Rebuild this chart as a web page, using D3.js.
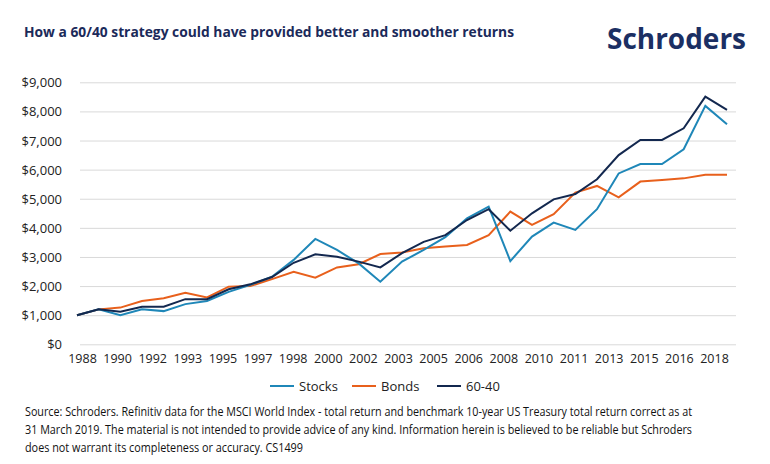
<!DOCTYPE html>
<html>
<head>
<meta charset="utf-8">
<script src="https://cdn.jsdelivr.net/npm/d3@7"></script>
<style>
  html, body { margin: 0; padding: 0; background: #fff; }
  svg { display: block; }
  text { font-family: "Open Sans", "Noto Sans", sans-serif; }
</style>
</head>
<body>
<svg id="chart" width="770" height="464"></svg>
<script>
const years = [1988,1989,1990,1991,1992,1993,1994,1995,1996,1997,1998,1999,2000,2001,2002,2003,2004,2005,2006,2007,2008,2009,2010,2011,2012,2013,2014,2015,2016,2017,2018];
const stocks = [1000,1200,1000,1200,1140,1380,1490,1800,2040,2320,2900,3620,3240,2780,2150,2840,3240,3680,4330,4730,2860,3700,4180,3930,4640,5870,6190,6190,6700,8190,7560];
const bonds  = [1000,1200,1260,1490,1580,1770,1610,1980,2000,2240,2490,2290,2640,2750,3100,3150,3300,3360,3410,3750,4560,4100,4470,5210,5440,5050,5590,5640,5700,5820,5820];
const mix6040 = [1000,1200,1120,1290,1290,1550,1550,1890,2060,2310,2800,3090,3010,2840,2640,3130,3520,3750,4270,4640,3900,4500,4980,5160,5670,6500,7020,7020,7420,8510,8050];
const xTickLabels = ["1988","1990","1992","1993","1995","1997","1998","2000","2002","2003","2005","2006","2008","2010","2011","2013","2015","2016","2018"];
const yTicks = [0,1000,2000,3000,4000,5000,6000,7000,8000,9000];
const seriesNames = ["Stocks","Bonds","60-40"];
const seriesColors = ["#1f87b8","#e8601c","#13284f"];
const title = "How a 60/40 strategy could have provided better and smoother returns";
const sourceLines = [
  "Source: Schroders. Refinitiv data for the MSCI World Index - total return and benchmark 10-year US Treasury total return correct as at",
  "31 March 2019. The material is not intended to provide advice of any kind. Information herein is believed to be reliable but Schroders",
  "does not warrant its completeness or accuracy. CS1499"
];

const svg = d3.select("#chart");
const x = d3.scalePoint().domain(years).range([77, 727]);
const xLab = d3.scalePoint().domain(xTickLabels).range([82, 714]);
const y = d3.scaleLinear().domain([0, 9000]).range([344.3, 82.3]);

// Title
svg.append("text").attr("x", 24).attr("y", 37)
  .attr("font-size", 14).attr("font-weight", 700).attr("fill", "#1b2a5a")
  .attr("textLength", 490).attr("lengthAdjust", "spacingAndGlyphs")
  .text(title);

// Logo
svg.append("text").attr("x", 607).attr("y", 49)
  .attr("font-size", 29).attr("font-weight", 700).attr("fill", "#1b2f63")
  .attr("textLength", 139).attr("lengthAdjust", "spacingAndGlyphs")
  .text("Schroders");

// Gridlines
const yAxis = d3.axisLeft(y).tickValues(yTicks).tickSize(-656)
  .tickFormat(d => "$" + d3.format(",")(d));
const gy = svg.append("g").attr("transform", "translate(80,0)").call(yAxis);
gy.select(".domain").remove();
gy.selectAll(".tick line").attr("stroke", "#d9d9d9").attr("stroke-width", 1);
gy.selectAll(".tick text").attr("x", -18).attr("dy", "0.35em")
  .attr("font-size", 13).attr("fill", "#222").attr("font-family", "'Open Sans', sans-serif");

// X axis labels
const xAxis = d3.axisBottom(xLab).tickSize(0);
const gx = svg.append("g").attr("transform", "translate(0,344)").call(xAxis);
gx.select(".domain").remove();
gx.selectAll(".tick text").attr("dy", 0).attr("y", 19.3)
  .attr("font-size", 12.5).attr("fill", "#222").attr("font-family", "'Open Sans', sans-serif");

// Lines
const line = d3.line().x((d, i) => x(years[i])).y(d => y(d));
const allSeries = [stocks, bonds, mix6040];
// draw order: bonds, stocks, 60-40 on top
[1, 0, 2].forEach(k => {
  svg.append("path").datum(allSeries[k])
    .attr("fill", "none").attr("stroke", seriesColors[k])
    .attr("stroke-width", 2).attr("stroke-linejoin", "miter")
    .attr("d", line);
});

// Legend
const legendX = [270, 352, 437];
const lg = svg.append("g");
seriesNames.forEach((n, i) => {
  lg.append("line").attr("x1", legendX[i]).attr("x2", legendX[i] + 24)
    .attr("y1", 386).attr("y2", 386)
    .attr("stroke", seriesColors[i]).attr("stroke-width", 2);
  lg.append("text").attr("x", legendX[i] + 29).attr("y", 390.5)
    .attr("font-size", 13).attr("fill", "#222").text(n);
});

// Source
const srcW = [667, 667, 278];
sourceLines.forEach((s, i) => {
  svg.append("text").attr("x", 25).attr("y", 416 + i * 18)
    .attr("font-size", 12).attr("fill", "#111")
    .attr("textLength", srcW[i]).attr("lengthAdjust", "spacingAndGlyphs")
    .text(s);
});
</script>
</body>
</html>
